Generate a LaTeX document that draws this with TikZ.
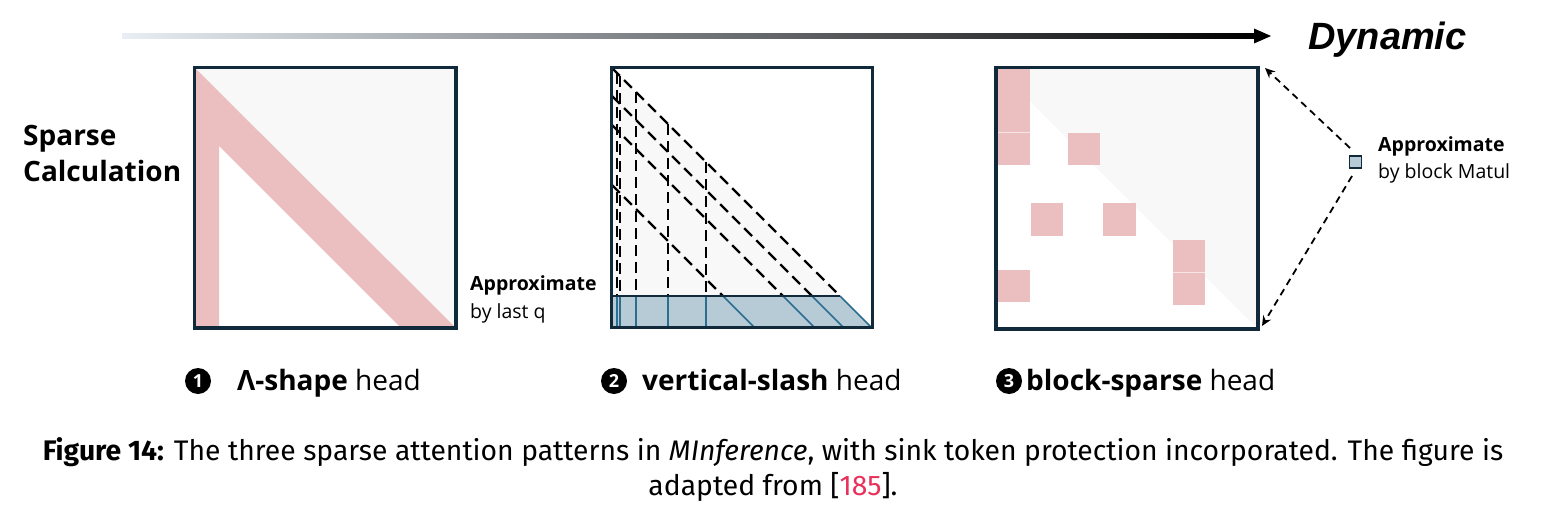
\documentclass[tikz,border=0pt]{standalone}
\usepackage{fontspec}
\setmainfont{Open Sans}
\newfontfamily\capfont{Fira Sans}
\newfontfamily\dynfont{Liberation Sans}
\usetikzlibrary{arrows.meta}
\definecolor{navy}{RGB}{16,42,60}
\definecolor{pinkb}{RGB}{235,191,192}
\definecolor{grayt}{RGB}{248,248,249}
\definecolor{stripb}{RGB}{183,203,215}
\definecolor{lineb}{RGB}{44,110,143}
\definecolor{gradl}{RGB}{232,238,244}
\definecolor{refred}{RGB}{232,48,90}
\tikzset{
  frame/.style={draw=navy, line width=3.2pt},
  dline/.style={black, line width=2.2pt, dash pattern=on 11pt off 6pt},
  bline/.style={lineb, line width=1.6pt},
  pinkblk/.style={fill=pinkb},
  arr/.style={black, line width=1.8pt, dash pattern=on 7pt off 5pt, -{Stealth[length=10pt,width=9pt]}},
  numc/.style={circle, fill=black, text=white, inner sep=0pt, minimum size=26pt, font=\fontsize{18}{18}\selectfont\bfseries},
  lbl/.style={anchor=base west, inner sep=0pt, font=\fontsize{28}{28}\selectfont},
  small/.style={anchor=base west, inner sep=0pt, font=\fontsize{19.5}{19.5}\selectfont},
}
\begin{document}
\begin{tikzpicture}[x=1pt,y=-1pt]
\useasboundingbox[fill=white] (0,0) rectangle (1546,519);

% gradient arrow
\coordinate (gs) at (122,36);
\coordinate (ge) at (1271,36);
\shade[left color=gradl, right color=black] (122,33.5) rectangle (1256,38.5);
\fill[black] (1254,28.5) -- (ge) -- (1254,43.5) -- cycle;
\node[anchor=base west, inner sep=0pt, font=\dynfont\fontsize{38}{38}\selectfont\bfseries\itshape] (dyn) at (1308,50) {Dynamic};

% Sparse calculation
\node[anchor=base west, inner sep=0pt, font=\fontsize{28}{28}\selectfont\bfseries] (sc1) at (23,145) {Sparse};
\node[anchor=base west, inner sep=0pt, font=\fontsize{28}{28}\selectfont\bfseries] (sc2) at (23,181.7) {Calculation};

% ---------- Panel 1 ----------
\fill[white] (194.5,67.5) rectangle (456,328);
\fill[grayt] (194.5,67.5) -- (456,67.5) -- (456,328) -- cycle;
\fill[pinkb] (194.5,67.5) -- (456,328) -- (401,328) -- (219,146) -- (219,328) -- (194.5,328) -- cycle;
\node[frame, minimum width=261.5pt, minimum height=260.5pt, inner sep=0pt] (p1) at (325.25,197.75) {};

% ---------- Panel 2 ----------
\fill[white] (611.5,67.5) rectangle (872.5,327.5);
\fill[grayt] (612,68) -- (840,296) -- (612,296) -- cycle;
\fill[stripb] (612,296) -- (840,296) -- (872,328) -- (612,328) -- cycle;
% diagonals
\foreach \y in {68,96,125,185}{
  \draw[dline] (612,\y) -- ({612+296-\y},296);
  \draw[bline] ({612+296-\y},296) -- ({612+328-\y},328);
}
% verticals
\foreach \x in {616.8,620,636,668,706}{
  \draw[dline] (\x,{68+\x-612}) -- (\x,296);
  \draw[bline] (\x,296) -- (\x,328);
}
\draw[navy, line width=2pt] (612,296) -- (840,296);
\node[frame, minimum width=261pt, minimum height=260pt, inner sep=0pt] (p2) at (742,197.5) {};
\node[small, font=\fontsize{19.5}{19.5}\selectfont\bfseries] (ap1) at (470,290) {Approximate};
\node[small] (ap1b) at (470,318) {by last q};

% ---------- Panel 3 ----------
\fill[white] (996,67.5) rectangle (1258,329);
\fill[grayt] (996,67.5) -- (1258,67.5) -- (1258,329) -- cycle;
\fill[pinkblk] (997,69) rectangle (1030,165);
\fill[pinkblk] (1067.7,132.7) rectangle (1100,165);
\fill[pinkblk] (1030.7,203.3) rectangle (1063.3,236);
\fill[pinkblk] (1103.3,203.3) rectangle (1136,236);
\fill[pinkblk] (1172.7,240) rectangle (1205.3,305);
\fill[pinkblk] (997,270) rectangle (1030,302.3);
\draw[white!60!pinkb, line width=0.7pt] (997,132.7) -- (1030,132.7);
\draw[white!60!pinkb, line width=0.7pt] (1172.7,272.3) -- (1205.3,272.3);
\node[frame, minimum width=262pt, minimum height=261.5pt, inner sep=0pt] (p3) at (1127,198.25) {};

% small block and arrows
\node[draw=navy, fill=stripb, line width=1.8pt, minimum size=12pt, inner sep=0pt] (sq) at (1355.5,162) {};
\coordinate (a1s) at (1350,148);
\coordinate (a1e) at (1265,68);
\coordinate (a2s) at (1352,176);
\coordinate (a2e) at (1262,326);
\draw[arr] (a1s) -- (a1e);
\draw[arr] (a2s) -- (a2e);
\node[small, font=\fontsize{19.5}{19.5}\selectfont\bfseries] (ap3) at (1378,151.7) {Approximate};
\node[small] (ap3b) at (1378,178) {by block Matul};

% ---------- Labels ----------
\node[numc] (n1) at (198,381) {1};
\node[lbl] (l1) at (237,390) {\textbf{Λ-shape} head};
\node[numc] (n2) at (614,381) {2};
\node[lbl] (l2) at (642,390) {\textbf{vertical-slash} head};
\node[numc] (n3) at (1009,381) {3};
\node[lbl] (l3) at (1026,390) {\textbf{block-sparse} head};

% ---------- Caption ----------
\node[anchor=base, inner sep=0pt, font=\capfont\fontsize{28.3}{28.3}\selectfont] (cap1) at (773,460)
  {\textbf{Figure 14:} The three sparse attention patterns in \textit{MInference}, with sink token protection incorporated. The figure is};
\node[anchor=base, inner sep=0pt, font=\capfont\fontsize{28.3}{28.3}\selectfont] (cap2) at (773,495)
  {adapted from [\textcolor{refred}{185}].};
\end{tikzpicture}
\end{document}
